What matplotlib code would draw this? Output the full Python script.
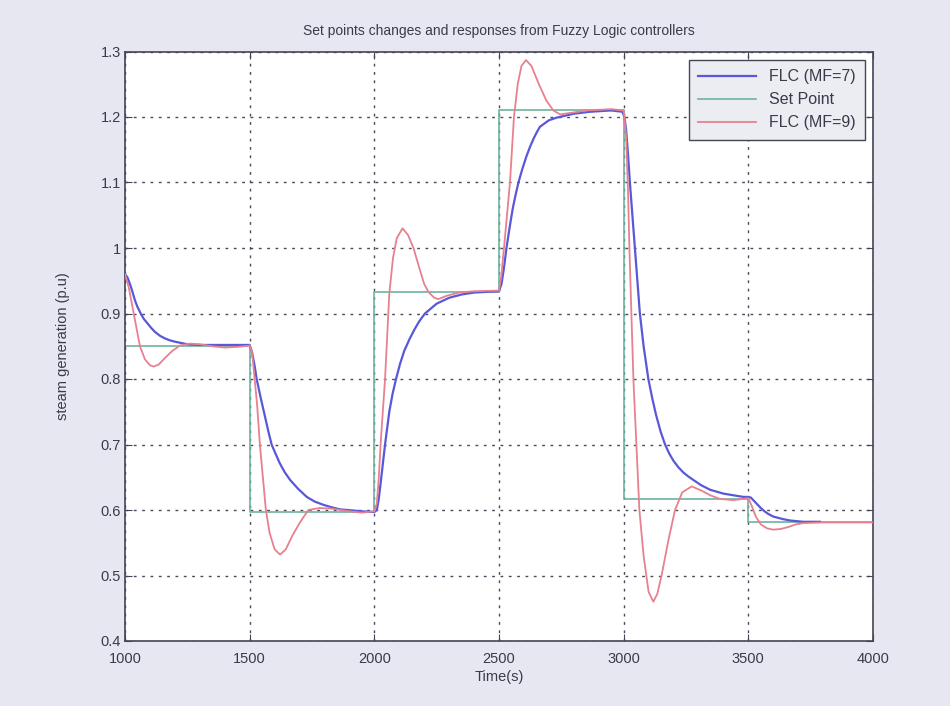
import matplotlib
matplotlib.use("Agg")
import matplotlib.pyplot as plt
from matplotlib.ticker import FixedLocator

plt.rcParams['font.family'] = ['Liberation Sans', 'DejaVu Sans']

# Set point (step signal)
sp_t = [1000, 1500, 1500, 2000, 2000, 2500, 2500, 3000, 3000, 3500, 3500, 4000]
sp_v = [0.85, 0.85, 0.597, 0.597, 0.933, 0.933, 1.21, 1.21, 0.617, 0.617, 0.581, 0.581]

# FLC (MF=7)
flc7_t = [1000, 1010, 1020, 1030, 1040, 1050, 1063, 1075, 1090, 1105, 1120, 1140, 1160, 1180, 1200, 1250, 1300, 1500,
          1510, 1520, 1528, 1545, 1560, 1575, 1588, 1605, 1620, 1640, 1662, 1695, 1729, 1760, 1795, 1830, 1862, 1950, 2000,
          2010, 2017, 2025, 2034, 2043, 2060, 2073, 2087, 2103, 2120, 2140, 2160, 2180, 2203, 2250, 2300, 2350, 2400, 2500,
          2510, 2520, 2530, 2542, 2555, 2567, 2578, 2593, 2610, 2625, 2640, 2652, 2664, 2682, 2700, 2731, 2765, 2800, 2865, 2950, 2995,
          3003, 3010, 3017, 3025, 3035, 3045, 3055, 3065, 3080, 3099, 3115, 3130, 3148, 3166, 3183, 3200, 3220, 3240, 3260, 3279, 3310, 3346, 3400, 3480, 3500,
          3510, 3520, 3535, 3550, 3565, 3580, 3600, 3620, 3640, 3667, 3720, 3787]
flc7_v = [0.96, 0.955, 0.945, 0.933, 0.92, 0.91, 0.9, 0.892, 0.885, 0.878, 0.872, 0.866, 0.862, 0.859, 0.857, 0.853, 0.852, 0.852,
          0.84, 0.82, 0.8, 0.77, 0.745, 0.72, 0.7, 0.685, 0.672, 0.658, 0.646, 0.632, 0.62, 0.613, 0.608, 0.604, 0.601, 0.598, 0.597,
          0.6, 0.615, 0.64, 0.67, 0.7, 0.75, 0.777, 0.8, 0.823, 0.843, 0.86, 0.875, 0.888, 0.9, 0.915, 0.924, 0.929, 0.932, 0.934,
          0.945, 0.97, 1.0, 1.03, 1.06, 1.082, 1.1, 1.12, 1.14, 1.155, 1.168, 1.177, 1.185, 1.19, 1.195, 1.199, 1.202, 1.205, 1.208, 1.21, 1.208,
          1.2, 1.18, 1.145, 1.1, 1.05, 1.0, 0.95, 0.9, 0.85, 0.8, 0.77, 0.745, 0.72, 0.7, 0.686, 0.675, 0.665, 0.657, 0.651, 0.646, 0.638, 0.631, 0.625, 0.62, 0.62,
          0.619, 0.615, 0.609, 0.603, 0.598, 0.594, 0.59, 0.588, 0.586, 0.584, 0.582, 0.582]

# FLC (MF=9)
flc9_t = [1000, 1015, 1030, 1045, 1060, 1080, 1100, 1115, 1135, 1160, 1190, 1220, 1260, 1300,
          1350, 1400, 1450, 1500,
          1510, 1520, 1530, 1541, 1553, 1565, 1580, 1600, 1622, 1645, 1670, 1700, 1735, 1780,
          1830, 1900, 1950, 2000,
          2010, 2018, 2025, 2043, 2060, 2075, 2090, 2113, 2135, 2157, 2180, 2200, 2217, 2240,
          2257, 2290, 2340, 2400, 2500,
          2510, 2520, 2532, 2544, 2560, 2575, 2590, 2608, 2630, 2660, 2690, 2718, 2745, 2800,
          2850, 2950, 3000,
          3010, 3018, 3023, 3031, 3039, 3051, 3063, 3080, 3100, 3119, 3135, 3152, 3180, 3206,
          3235, 3273, 3310, 3350, 3386, 3440, 3500,
          3515, 3530, 3550, 3575, 3600, 3630, 3660, 3690, 3720, 3800, 4000]
flc9_v = [0.96, 0.94, 0.91, 0.88, 0.85, 0.83, 0.821, 0.819, 0.822, 0.832, 0.843, 0.851, 0.854, 0.853,
          0.85, 0.848, 0.849, 0.851,
          0.84, 0.8, 0.76, 0.7, 0.65, 0.6, 0.565, 0.54, 0.532, 0.54, 0.56, 0.58, 0.6, 0.603,
          0.602, 0.598, 0.596, 0.598,
          0.61, 0.65, 0.7, 0.8, 0.93, 0.985, 1.015, 1.03, 1.02, 1.0, 0.97, 0.945, 0.933, 0.924,
          0.922, 0.927, 0.932, 0.934, 0.935,
          0.96, 1.0, 1.05, 1.1, 1.2, 1.25, 1.278, 1.287, 1.278, 1.25, 1.225, 1.21, 1.204, 1.207,
          1.21, 1.212, 1.21,
          1.17, 1.08, 1.0, 0.9, 0.8, 0.7, 0.6, 0.53, 0.475, 0.46, 0.472, 0.5, 0.555, 0.6,
          0.627, 0.636, 0.63, 0.622, 0.617, 0.615, 0.618,
          0.605, 0.59, 0.578, 0.572, 0.57, 0.571, 0.574, 0.578, 0.58, 0.581, 0.581]

x_ticks = [1000, 1500, 2000, 2500, 3000, 3500, 4000]
y_ticks = [0.4, 0.5, 0.6, 0.7, 0.8, 0.9, 1.0, 1.1, 1.2, 1.3]
y_labels = ['0.4', '0.5', '0.6', '0.7', '0.8', '0.9', '1', '1.1', '1.2', '1.3']

bg = '#e7e7f1'
fig = plt.figure(figsize=(9.5, 7.06), dpi=100, facecolor=bg)
ax = fig.add_axes([125/950, 65/706, 748/950, 589.5/706])
ax.set_facecolor('white')

ax.plot(flc7_t, flc7_v, color='#5858d8', lw=1.6, label='FLC (MF=7)', zorder=3)
ax.plot(sp_t, sp_v, color='#6db3a0', lw=1.2, label='Set Point', zorder=2)
ax.plot(flc9_t, flc9_v, color='#e8808f', lw=1.3, label='FLC (MF=9)', zorder=4)

ax.set_xlim(1000, 4000)
ax.set_ylim(0.4, 1.3)
ax.xaxis.set_major_locator(FixedLocator(x_ticks))
ax.yaxis.set_major_locator(FixedLocator(y_ticks))
ax.set_yticklabels(y_labels)
ax.grid(True, linestyle=(0, (2, 4)), color='#4a4a5a', lw=1.0)
ax.tick_params(direction='in', length=5, color='#444455', labelsize=10.5,
               labelcolor='#3a3a4a', top=True, right=True)
ax.tick_params(axis='x', pad=8)
ax.tick_params(axis='y', pad=3)
for s in ax.spines.values():
    s.set_color('#444455')
    s.set_linewidth(1.2)

ax.set_title('Set points changes and responses from Fuzzy Logic controllers',
             fontsize=10, color='#3a3a4a', pad=12)
ax.set_xlabel('Time(s)', fontsize=10.5, color='#3a3a4a', labelpad=3)
ax.set_ylabel('steam generation (p.u)', fontsize=10.5, color='#3a3a4a', labelpad=22)

leg = ax.legend(loc='upper right', fontsize=11.5, frameon=True, fancybox=False,
                borderpad=0.6, handlelength=3.6, labelspacing=0.5, borderaxespad=0,
                bbox_to_anchor=(0.989, 0.986))
leg.get_frame().set_facecolor('#ececf3')
leg.get_frame().set_edgecolor('#444455')
leg.get_frame().set_alpha(1)
for t in leg.get_texts():
    t.set_color('#3a3a4a')

fig.savefig('out.png', dpi=100, facecolor=bg)
